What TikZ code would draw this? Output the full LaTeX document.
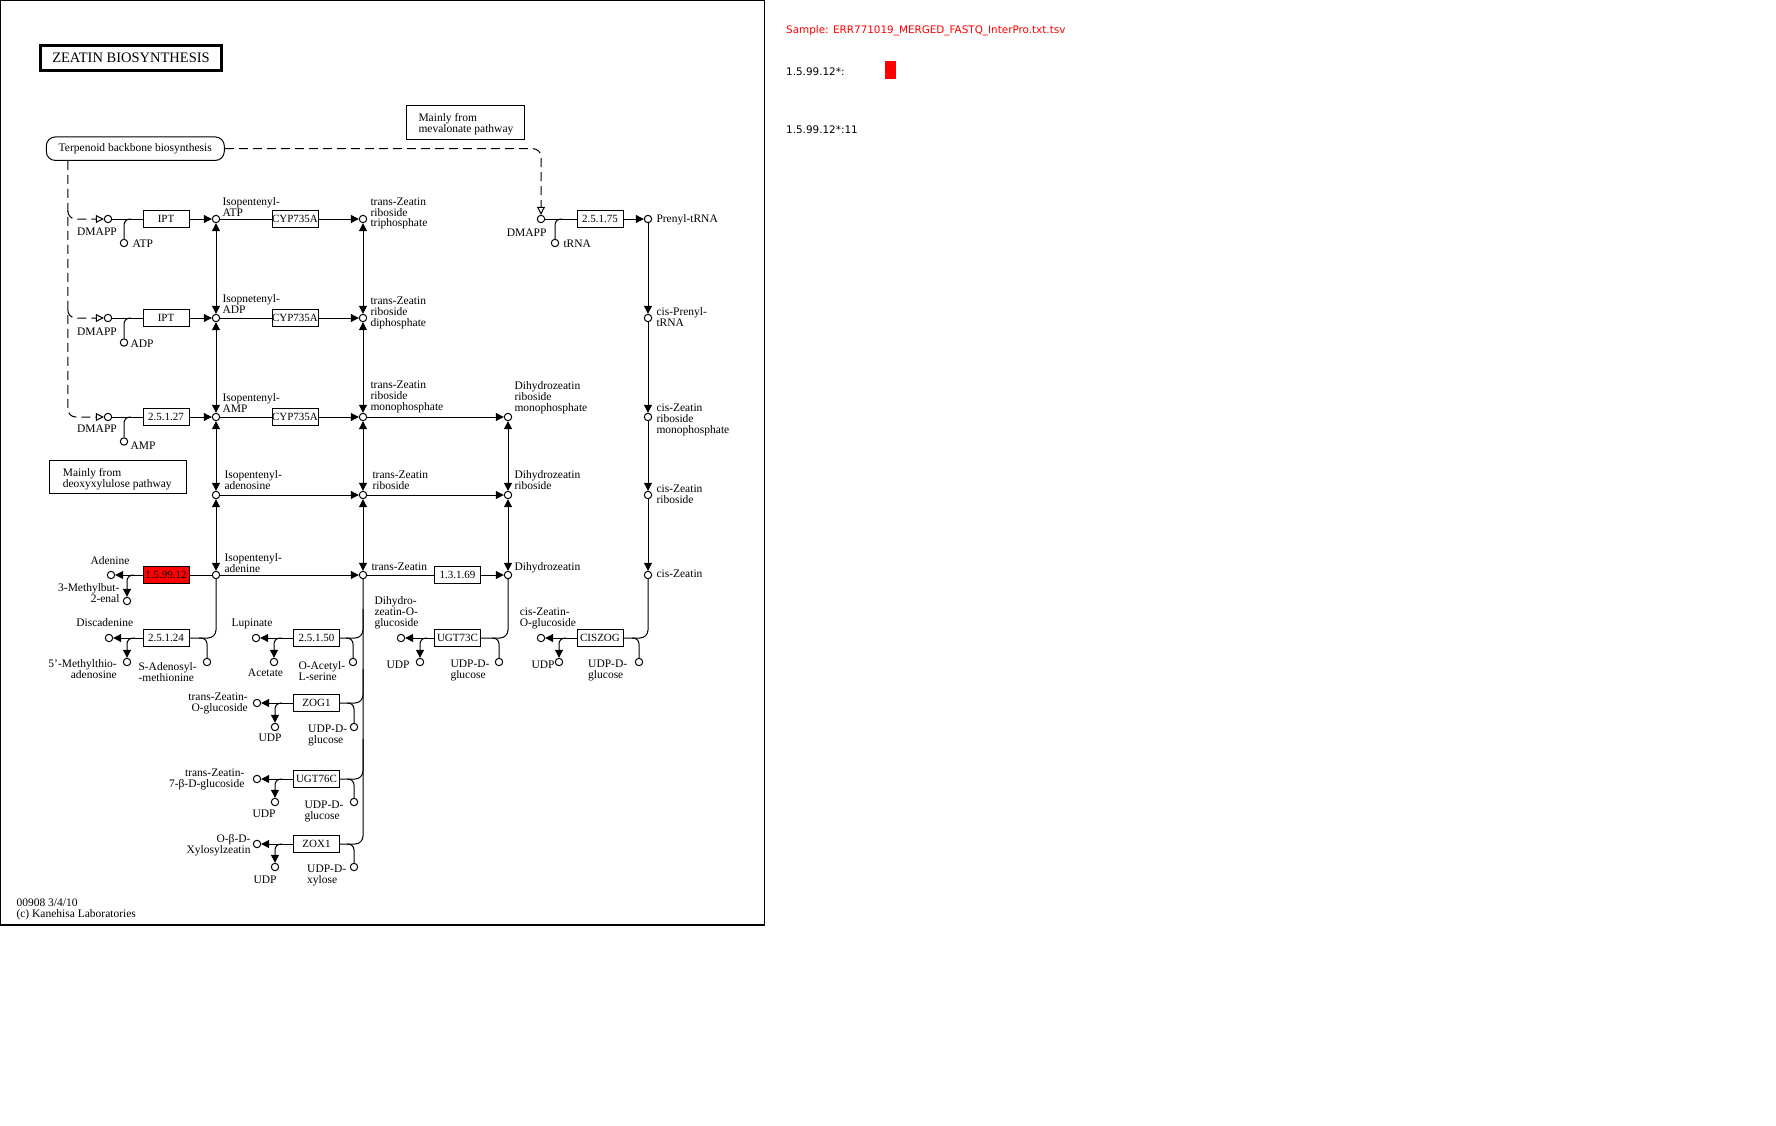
\documentclass[tikz,border=0pt]{standalone}
\usepackage{fontspec}
\setmainfont{Liberation Serif}
\newfontfamily\panelfont{DejaVu Sans}
\usetikzlibrary{arrows.meta,calc}
% map label font: tight line spacing like the KEGG bitmap font
\newcommand\kf{\fontsize{11.5}{10.8}\selectfont\lineskiplimit=-20pt\lineskip=0pt}
\newcommand\ecfont{\fontsize{11}{11}\selectfont}
\definecolor{hitred}{RGB}{255,0,0}
\begin{document}
\begin{tikzpicture}[x=1pt,y=-1pt,
  line width=1pt,
  >={Triangle[length=8pt,width=8pt]},
  cpd/.style={circle,draw,fill=white,minimum size=7.4pt,inner sep=0pt,line width=1pt},
  enz/.style={draw,fill=white,minimum width=46pt,minimum height=16.5pt,inner sep=0pt,font=\ecfont},
  lb/.style={inner sep=0pt,font=\kf,align=left,anchor=north west},
  lbr/.style={inner sep=0pt,font=\kf,align=right,anchor=north east},
  lbc/.style={inner sep=0pt,font=\kf,align=center,anchor=north},
  link/.style={rounded corners=6pt},
  trunk/.style={rounded corners=8pt},
  feed/.style={dash pattern=on 9pt off 5pt,rounded corners=8pt},
  opentip/.style={-{Triangle[open,length=8pt,width=8pt]}},
  panel/.style={inner sep=0pt,anchor=west,font=\panelfont\fontsize{10.4}{12}\selectfont}
]
\useasboundingbox (0,0) rectangle (1776,1126);
\fill[white] (0,0) rectangle (1776,1126);
\draw[line width=1.3pt] (0.65,0.65) rectangle (764.3,925);

% ---- title and notes ----
\node[draw,line width=2.6pt,minimum width=181pt,minimum height=25pt,inner sep=0pt,
      font=\fontsize{14.5}{15}\selectfont] (title) at (131,58) {ZEATIN BIOSYNTHESIS};
\node[draw,rounded corners=9pt,minimum width=178pt,minimum height=23.5pt,inner sep=0pt,font=\kf]
      (terp) at (135.3,148.7) {Terpenoid backbone biosynthesis};
\node[draw,minimum width=117.8pt,minimum height=34pt,inner sep=0pt] (meva) at (465.5,122.3) {};
\node[lb] (mevatxt) at (418,112.8) {Mainly from\\mevalonate pathway};
\node[draw,minimum width=137pt,minimum height=33.3pt,inner sep=0pt] (deox) at (117.5,477.3) {};
\node[lb] (deoxtxt) at (62.3,467.8) {Mainly from\\deoxyxylulose pathway};
\node[lb] (foot) at (16,898.5) {00908 3/4/10\\(c) Kanehisa Laboratories};

% ---- enzymes ----
\node[enz] (e1) at (166,219) {IPT};
\node[enz] (e2) at (166,318) {IPT};
\node[enz] (e3) at (166,417) {2.5.1.27};
\node[enz] (c1) at (295,219) {CYP735A};
\node[enz] (c2) at (295,318) {CYP735A};
\node[enz] (c3) at (295,417) {CYP735A};
\node[enz] (e75) at (600,219) {2.5.1.75};
\node[enz,fill=hitred] (red) at (166,575) {1.5.99.12};
\node[enz] (e24) at (166,638) {2.5.1.24};
\node[enz] (e50) at (316.5,638) {2.5.1.50};
\node[enz] (e69) at (457.5,575) {1.3.1.69};
\node[enz] (ugt73c) at (457.5,638) {UGT73C};
\node[enz] (ciszog) at (600,638) {CISZOG};
\node[enz] (zog1) at (316.5,703) {ZOG1};
\node[enz] (ugt76c) at (316.5,779) {UGT76C};
\node[enz] (zox1) at (316.5,844) {ZOX1};

% ---- compounds ----
\node[cpd] (dm1) at (108,219) {};
\node[cpd] (dm2) at (108,318) {};
\node[cpd] (dm3) at (108,417) {};
\node[cpd] (atp) at (124,243) {};
\node[cpd] (adp) at (124,342.5) {};
\node[cpd] (amp) at (124,441.5) {};
\node[cpd] (ipatp) at (216,219) {};
\node[cpd] (ipadp) at (216,318) {};
\node[cpd] (ipamp) at (216,417) {};
\node[cpd] (ipr) at (216,495) {};
\node[cpd] (ip) at (216,575) {};
\node[cpd] (tzrtp) at (363,219) {};
\node[cpd] (tzrdp) at (363,318) {};
\node[cpd] (tzrmp) at (363,417) {};
\node[cpd] (tzr) at (363,495) {};
\node[cpd] (tz) at (363,575) {};
\node[cpd] (dzrmp) at (508,417) {};
\node[cpd] (dzr) at (508,495) {};
\node[cpd] (dz) at (508,575) {};
\node[cpd] (dm4) at (541,219) {};
\node[cpd] (trna) at (555,243) {};
\node[cpd] (prtrna) at (648,219) {};
\node[cpd] (cprtrna) at (648,318) {};
\node[cpd] (czrmp) at (648,417) {};
\node[cpd] (czr) at (648,495) {};
\node[cpd] (cz) at (648,575) {};
\node[cpd] (adenine) at (111,575) {};
\node[cpd] (mbe) at (127,601) {};
\node[cpd] (disc) at (109,638) {};
\node[cpd] (mta) at (127,662) {};
\node[cpd] (sam) at (207,662) {};
\node[cpd] (lup) at (256,638) {};
\node[cpd] (acet) at (274,662) {};
\node[cpd] (oas) at (353,662) {};
\node[cpd] (dzog) at (401,638) {};
\node[cpd] (udpa) at (420,662) {};
\node[cpd] (udpga) at (499,662) {};
\node[cpd] (czog) at (541,638) {};
\node[cpd] (udpb) at (559,662) {};
\node[cpd] (udpgb) at (639,662) {};
\node[cpd] (tzog) at (257,703) {};
\node[cpd] (udpc) at (275,727) {};
\node[cpd] (udpgc) at (354,727) {};
\node[cpd] (tz7g) at (257,779) {};
\node[cpd] (udpd) at (275,802) {};
\node[cpd] (udpgd) at (354,802) {};
\node[cpd] (xyl) at (257,844) {};
\node[cpd] (udpe) at (275,867) {};
\node[cpd] (udpx) at (354,867) {};

% ---- feeds from terpenoid backbone biosynthesis ----
\coordinate (feedtop) at ([xshift=22pt]terp.south west);
\draw[feed,opentip] (feedtop) |- (dm3.west);
\draw[feed,opentip] ($(feedtop|-dm1)+(0,-8)$) |- (dm1.west);
\draw[feed,opentip] ($(feedtop|-dm2)+(0,-8)$) |- (dm2.west);
\draw[feed,opentip] (terp.east) -| (dm4.north);

% ---- prenylation of adenine nucleotides ----
\draw (dm1) -- (e1); \draw[->] (e1) -- (ipatp);
\draw (dm2) -- (e2); \draw[->] (e2) -- (ipadp);
\draw (dm3) -- (e3); \draw[->] (e3) -- (ipamp);
\draw[link] ($(atp|-dm1)+(7,0)$) -| (atp.north);
\draw[link] ($(adp|-dm2)+(7,0)$) -| (adp.north);
\draw[link] ($(amp|-dm3)+(7,0)$) -| (amp.north);

\draw (ipatp) -- (c1); \draw[->] (c1) -- (tzrtp);
\draw (ipadp) -- (c2); \draw[->] (c2) -- (tzrdp);
\draw (ipamp) -- (c3); \draw[->] (c3) -- (tzrmp);
\draw[->] (tzrmp) -- (dzrmp);
\draw[->] (ipr) -- (tzr);
\draw[->] (tzr) -- (dzr);
\draw[->] (ip) -- (tz);
\draw (tz) -- (e69); \draw[->] (e69) -- (dz);

\draw[<->] (ipatp) -- (ipadp);
\draw[<->] (ipadp) -- (ipamp);
\draw[<->] (ipamp) -- (ipr);
\draw[<->] (ipr) -- (ip);
\draw[<->] (tzrtp) -- (tzrdp);
\draw[<->] (tzrdp) -- (tzrmp);
\draw[<->] (tzrmp) -- (tzr);
\draw[<->] (tzr) -- (tz);
\draw[<->] (dzrmp) -- (dzr);
\draw[<->] (dzr) -- (dz);

% ---- tRNA route ----
\draw (dm4) -- (e75); \draw[->] (e75) -- (prtrna);
\draw[link] ($(trna|-dm4)+(7,0)$) -| (trna.north);
\draw[->] (prtrna) -- (cprtrna);
\draw[->] (cprtrna) -- (czrmp);
\draw[->] (czrmp) -- (czr);
\draw[->] (czr) -- (cz);

% ---- degradation and side branches ----
\draw (ip) -- (red); \draw[->] (red) -- (adenine);
\draw[link,->] ($(mbe|-red)+(7,0)$) -| (mbe.north);

\draw[trunk] (ip.south) |- (e24.east);
\draw[->] (e24) -- (disc);
\draw[link,->] ($(mta|-e24)+(8,0)$) -| (mta.north);
\draw[link] ($(sam|-e24)+(-8,0)$) -| (sam.north);

\draw[trunk] (tz.south) |- (zox1.east);
\draw[trunk] ($(tz.south)+(0,30)$) |- (e50.east);
\draw[trunk] ($(tz.south)+(0,90)$) |- (zog1.east);
\draw[trunk] ($(tz.south)+(0,160)$) |- (ugt76c.east);

\draw[->] (e50) -- (lup);
\draw[link,->] ($(acet|-e50)+(8,0)$) -| (acet.north);
\draw[link] ($(oas|-e50)+(-7,0)$) -| (oas.north);

\draw[->] (zog1) -- (tzog);
\draw[link,->] ($(udpc|-zog1)+(7,0)$) -| (udpc.north);
\draw[link] ($(udpgc|-zog1)+(-7,0)$) -| (udpgc.north);

\draw[->] (ugt76c) -- (tz7g);
\draw[link,->] ($(udpd|-ugt76c)+(7,0)$) -| (udpd.north);
\draw[link] ($(udpgd|-ugt76c)+(-7,0)$) -| (udpgd.north);

\draw[->] (zox1) -- (xyl);
\draw[link,->] ($(udpe|-zox1)+(7,0)$) -| (udpe.north);
\draw[link] ($(udpx|-zox1)+(-7,0)$) -| (udpx.north);

\draw[trunk] (dz.south) |- (ugt73c.east);
\draw[->] (ugt73c) -- (dzog);
\draw[link,->] ($(udpa|-ugt73c)+(7,0)$) -| (udpa.north);
\draw[link] ($(udpga|-ugt73c)+(-7,0)$) -| (udpga.north);

\draw[trunk] (cz.south) |- (ciszog.east);
\draw[->] (ciszog) -- (czog);
\draw[link,->] ($(udpb|-ciszog)+(7,0)$) -| (udpb.north);
\draw[link] ($(udpgb|-ciszog)+(-7,0)$) -| (udpgb.north);

% ---- compound labels ----
\node[lbc] (l-dm1) at (97,227.2) {DMAPP};
\node[lbc] (l-dm2) at (97,327.2) {DMAPP};
\node[lbc] (l-dm3) at (97,424.8) {DMAPP};
\node[lb] (l-atp) at (132,239.5) {ATP};
\node[lb] (l-adp) at (130,339.5) {ADP};
\node[lb] (l-amp) at (130,441.2) {AMP};
\node[lb] (l-ipatp) at (222,197.2) {Isopentenyl-\\ATP};
\node[lb] (l-ipadp) at (222,294.5) {Isopnetenyl-\\ADP};
\node[lb] (l-ipamp) at (222,392.8) {Isopentenyl-\\AMP};
\node[lb] (l-ipr) at (224,470.5) {Isopentenyl-\\adenosine};
\node[lb] (l-ip) at (224,552.8) {Isopentenyl-\\adenine};
\node[lb] (l-tzrtp) at (370,197.2) {trans-Zeatin\\riboside\\triphosphate};
\node[lb] (l-tzrdp) at (370,296.5) {trans-Zeatin\\riboside\\diphosphate};
\node[lb] (l-tzrmp) at (370,380.5) {trans-Zeatin\\riboside\\monophosphate};
\node[lb] (l-tzr) at (372,470.5) {trans-Zeatin\\riboside};
\node[lb] (l-tz) at (371,562.5) {trans-Zeatin};
\node[lb] (l-dzrmp) at (514,381.2) {Dihydrozeatin\\riboside\\monophosphate};
\node[lb] (l-dzr) at (514,470.5) {Dihydrozeatin\\riboside};
\node[lb] (l-dz) at (514,562.5) {Dihydrozeatin};
\node[lbc] (l-dm4) at (526.7,228.2) {DMAPP};
\node[lb] (l-trna) at (563,239.5) {tRNA};
\node[lb] (l-prtrna) at (656,214.5) {Prenyl-tRNA};
\node[lb] (l-cprtrna) at (656,307.5) {cis-Prenyl-\\tRNA};
\node[lb] (l-czrmp) at (656,403.5) {cis-Zeatin\\riboside\\monophosphate};
\node[lb] (l-czr) at (656,484.5) {cis-Zeatin\\riboside};
\node[lb] (l-cz) at (656,569.5) {cis-Zeatin};
\node[lbc] (l-adenine) at (110,556.5) {Adenine};
\node[lbr] (l-mbe) at (120,583.2) {3-Methylbut-\\2-enal};
\node[lbc] (l-disc) at (104.7,618.2) {Discadenine};
\node[lbr] (l-mta) at (117.3,659.5) {5'-Methylthio-\\adenosine};
\node[lb] (l-sam) at (138,662.2) {S-Adenosyl-\\-methionine};
\node[lbc] (l-lup) at (252,618.2) {Lupinate};
\node[lbc] (l-acet) at (265.5,668.2) {Acetate};
\node[lb] (l-oas) at (298,661.5) {O-Acetyl-\\L-serine};
\node[lb] (l-dzog) at (374,596.5) {Dihydro-\\zeatin-O-\\glucoside};
\node[lbc] (l-udpa) at (398,660.5) {UDP};
\node[lb] (l-udpga) at (450,659.8) {UDP-D-\\glucose};
\node[lb] (l-czog) at (519.3,607.8) {cis-Zeatin-\\O-glucoside};
\node[lbc] (l-udpb) at (543,660.5) {UDP};
\node[lb] (l-udpgb) at (587.7,659.8) {UDP-D-\\glucose};
\node[lbr] (l-tzog) at (248.3,692.8) {trans-Zeatin-\\O-glucoside};
\node[lbc] (l-udpc) at (270,733.8) {UDP};
\node[lb] (l-udpgc) at (307.7,724.5) {UDP-D-\\glucose};
\node[lbr] (l-tz7g) at (245,768.8) {trans-Zeatin-\\7-β-D-glucoside};
\node[lbc] (l-udpd) at (264,809.5) {UDP};
\node[lb] (l-udpgd) at (304,800.5) {UDP-D-\\glucose};
\node[lbr] (l-xyl) at (251,833.8) {O-β-D-\\Xylosylzeatin};
\node[lbc] (l-udpe) at (265,875.5) {UDP};
\node[lb] (l-udpx) at (306.7,864.8) {UDP-D-\\xylose};

% ---- sample panel ----
\node[panel,text=hitred] (sample) at (785.7,31) {Sample: ERR771019\_MERGED\_FASTQ\_InterPro.txt.tsv};
\node[panel] (key) at (785.7,71.7) {1.5.99.12*:};
\node[fill=hitred,minimum width=11pt,minimum height=18pt,inner sep=0pt] (swatch) at (890.5,70) {};
\node[panel] (count) at (785.7,130) {1.5.99.12*:11};
\end{tikzpicture}
\end{document}
